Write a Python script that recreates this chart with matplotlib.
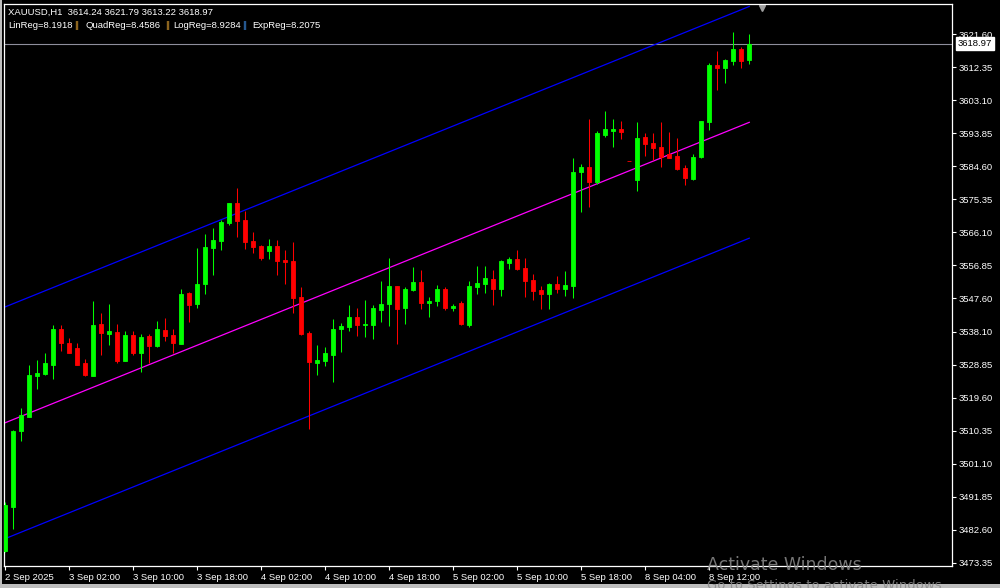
import numpy as np
import matplotlib.pyplot as plt
import matplotlib.transforms as mtransforms

# XAUUSD H1 candles
opens = [3476.63, 3489.06, 3510.38, 3514.31, 3525.81, 3526.37, 3528.90, 3538.90, 3534.97, 3533.57,
         3529.36, 3525.81, 3540.30, 3537.59, 3538.06, 3530.02, 3537.22, 3532.26, 3536.94, 3534.23,
         3538.62, 3537.22, 3534.79, 3549.00, 3545.92, 3551.53, 3561.72, 3563.59, 3568.73, 3574.25,
         3569.48, 3563.59, 3562.19, 3560.78, 3562.19, 3558.26, 3557.98, 3547.88, 3537.78, 3529.46,
         3530.02, 3531.71, 3539.00, 3539.56, 3542.27, 3540.12, 3540.12, 3544.23, 3545.92, 3550.97,
         3544.80, 3549.84, 3552.09, 3546.20, 3546.76, 3550.13, 3544.80, 3546.20, 3540.03, 3550.69,
         3551.53, 3552.93, 3550.13, 3557.42, 3558.54, 3556.02, 3552.65, 3549.84, 3548.72, 3551.53,
         3550.13, 3551.06, 3582.95, 3584.35, 3580.14, 3593.32, 3594.45, 3595.01, 3585.94, 3580.70,
         3592.76, 3591.08, 3589.96, 3588.00, 3587.43, 3584.07, 3580.98, 3587.15, 3596.97, 3612.96,
         3612.12, 3614.08, 3617.45, 3614.24]
highs = [3490.47, 3510.57, 3516.83, 3528.80, 3530.20, 3532.17, 3540.12, 3540.12, 3536.38, 3534.97,
         3530.39, 3546.75, 3543.39, 3545.91, 3540.30, 3538.34, 3538.25, 3537.50, 3537.50, 3541.05,
         3541.99, 3538.90, 3550.20, 3549.28, 3561.63, 3565.55, 3567.24, 3569.48, 3574.25, 3578.46,
         3572.10, 3566.11, 3562.37, 3564.15, 3563.87, 3561.06, 3563.31, 3550.69, 3538.25, 3534.42,
         3533.86, 3541.71, 3540.59, 3545.64, 3544.80, 3547.04, 3545.54, 3552.37, 3558.82, 3550.97,
         3550.69, 3556.30, 3555.45, 3547.88, 3551.25, 3550.69, 3545.92, 3546.76, 3552.37, 3556.58,
         3556.58, 3555.45, 3558.26, 3559.10, 3561.06, 3558.82, 3554.33, 3550.97, 3551.81, 3553.77,
         3555.17, 3586.87, 3585.19, 3597.81, 3594.45, 3600.06, 3597.81, 3597.25, 3585.94, 3596.97,
         3593.89, 3593.89, 3596.97, 3594.17, 3592.48, 3584.91, 3588.00, 3597.25, 3613.52, 3616.89,
         3614.64, 3622.22, 3618.01, 3621.79]
lows = [3476.44, 3482.80, 3507.58, 3514.22, 3521.98, 3525.90, 3524.97, 3532.82, 3532.26, 3528.90,
        3525.81, 3525.81, 3531.70, 3534.51, 3529.27, 3530.02, 3531.70, 3526.93, 3529.27, 3533.76,
        3535.63, 3532.07, 3534.79, 3540.96, 3544.89, 3548.82, 3554.05, 3561.06, 3568.17, 3564.80,
        3561.35, 3560.32, 3558.35, 3558.63, 3554.15, 3551.62, 3543.49, 3537.22, 3510.95, 3526.10,
        3528.62, 3524.13, 3532.55, 3538.34, 3537.04, 3536.75, 3536.19, 3540.96, 3539.84, 3534.79,
        3540.40, 3549.56, 3544.52, 3542.27, 3545.36, 3544.23, 3543.95, 3540.03, 3539.56, 3548.72,
        3549.00, 3545.64, 3548.16, 3555.74, 3555.45, 3547.88, 3547.04, 3544.52, 3544.52, 3549.00,
        3548.16, 3547.60, 3571.73, 3573.13, 3579.58, 3592.76, 3589.96, 3592.20, 3585.94, 3577.62,
        3587.43, 3586.31, 3584.35, 3586.87, 3583.51, 3579.30, 3580.70, 3586.87, 3594.73, 3605.95,
        3607.91, 3612.96, 3612.12, 3613.22]
closes = [3489.53, 3510.29, 3514.68, 3526.00, 3526.56, 3529.36, 3538.90, 3535.07, 3532.26, 3528.90,
          3526.09, 3540.02, 3537.68, 3538.34, 3530.02, 3537.22, 3532.26, 3536.66, 3534.23, 3538.90,
          3537.03, 3534.97, 3548.72, 3545.73, 3551.53, 3561.91, 3563.87, 3568.92, 3574.25, 3569.29,
          3563.40, 3561.91, 3558.91, 3562.19, 3558.07, 3557.79, 3547.69, 3537.60, 3529.74, 3530.21,
          3532.17, 3538.91, 3539.84, 3542.27, 3540.12, 3540.40, 3544.80, 3545.92, 3550.97, 3544.52,
          3550.13, 3552.09, 3546.20, 3546.76, 3550.13, 3544.80, 3545.45, 3540.31, 3550.97, 3551.81,
          3553.21, 3550.13, 3557.98, 3558.54, 3555.74, 3552.37, 3549.56, 3548.72, 3551.53, 3550.13,
          3551.25, 3582.95, 3584.35, 3580.14, 3593.89, 3595.01, 3595.01, 3594.17, 3585.94, 3592.48,
          3590.80, 3589.68, 3587.15, 3586.87, 3583.79, 3581.26, 3587.15, 3597.25, 3612.96, 3612.12,
          3614.36, 3617.45, 3614.08, 3618.97]

# regression channel (middle line at first/last bar, half width)
reg_start = 3512.62
reg_end = 3596.88
reg_dev = 32.5

bid = 3618.97

time_labels = ['2 Sep 2025', '3 Sep 02:00', '3 Sep 10:00', '3 Sep 18:00', '4 Sep 02:00',
               '4 Sep 10:00', '4 Sep 18:00', '5 Sep 02:00', '5 Sep 10:00', '5 Sep 18:00',
               '8 Sep 04:00', '8 Sep 12:00']
time_label_bars = [0, 8, 16, 24, 32, 40, 48, 56, 64, 72, 80, 88]

price_ticks = [3621.60, 3612.35, 3603.10, 3593.85, 3584.60, 3575.35, 3566.10, 3556.85, 3547.60,
               3538.10, 3528.85, 3519.60, 3510.35, 3501.10, 3491.85, 3482.60, 3473.35]

font = 'Liberation Sans'
fs = 6.8

o = np.array(opens)
h = np.array(highs)
l = np.array(lows)
c = np.array(closes)
x = np.arange(len(o))
cols = np.where(c > o, '#00ff00', '#ff0000')

fig = plt.figure(figsize=(10, 5.88), dpi=100, facecolor='black')
ax = fig.add_axes([4 / 1000, 22 / 588, 948 / 1000, 562 / 588])
ax.set_facecolor('black')

# candles
ax.vlines(x, l, h, colors=cols, linewidth=0.75, zorder=3)
ax.bar(x, c - o, bottom=o, width=0.55, color=cols, edgecolor=cols, linewidth=0.6, zorder=4)

# channel
xr = np.array([0, len(o) - 1])
mid = np.array([reg_start, reg_end])
ax.plot(xr, mid, color='#ff00ff', lw=0.9, zorder=2)
ax.plot(xr, mid + reg_dev, color='#0000ff', lw=0.9, zorder=2)
ax.plot(xr, mid - reg_dev, color='#0000ff', lw=0.9, zorder=2)

# bid line
ax.axhline(bid, color='#8e8e9c', lw=0.8, zorder=1)
ax.annotate(f'{bid:.2f}', xy=(1, bid), xycoords=('axes fraction', 'data'),
            xytext=(4, 0), textcoords='offset points', ha='left', va='center',
            color='black', fontsize=fs, family=font, annotation_clip=False,
            bbox=dict(boxstyle='square,pad=0.2', fc='white', ec='white'))

# chart shift marker
trans = mtransforms.blended_transform_factory(ax.transData, ax.transAxes)
ax.plot([94.6], [0.992], marker='v', color='#a0a0a0', ms=5, transform=trans, clip_on=False)

ax.set_xlim(-0.16, 118.34)
ax.set_ylim(3472.43, 3630.07)

for s in ax.spines.values():
    s.set_color('white')
    s.set_linewidth(0.9)

ax.yaxis.tick_right()
ax.set_yticks(price_ticks)
ax.set_yticklabels([f'{v:.2f}' for v in price_ticks], family=font)
ax.set_xticks(time_label_bars)
ax.set_xticklabels(time_labels, ha='left', family=font)
ax.tick_params(axis='y', colors='white', length=3, width=0.8, pad=2, labelsize=fs)
ax.tick_params(axis='x', colors='white', length=3, width=0.8, pad=2, labelsize=fs)
for t in ax.get_xticklabels():
    t.set_x(t.get_position()[0])

# header
def px(xp, yp):
    return xp / 1000, 1 - yp / 588

fig.text(*px(8, 12.5), 'XAUUSD,H1  3614.24 3621.79 3613.22 3618.97', color='white',
         fontsize=fs, family=font, va='center')
parts = [(8, 'LinReg=8.1918', 'white'), (74, '||', '#e0a030'),
         (86, 'QuadReg=8.4586', 'white'), (165, '||', '#e0a030'),
         (173, 'LogReg=8.9284', 'white'), (242, '||', '#3c8ce6'),
         (252, 'ExpReg=8.2075', 'white')]
for xp, s, col in parts:
    fig.text(*px(xp, 25), s, color=col, fontsize=fs, family=font, va='center')

# window borders
fig.patches.append(plt.Rectangle((0, 0), 1, 4 / 588, transform=fig.transFigure,
                                 fc='#bdbdbd', ec='none'))
fig.patches.append(plt.Rectangle((0, 0), 2 / 1000, 1, transform=fig.transFigure,
                                 fc='#bdbdbd', ec='none'))

# windows watermark
fig.text(*px(707, 565), 'Activate Windows', color='#8a8a8a', alpha=0.85,
         fontsize=12.5, family='DejaVu Sans', va='center', zorder=10)
fig.text(*px(707, 586), 'Go to Settings to activate Windows.', color='#8a8a8a', alpha=0.85,
         fontsize=9.5, family='DejaVu Sans', va='center', zorder=10)

fig.savefig('out.png', dpi=100, facecolor='black')
